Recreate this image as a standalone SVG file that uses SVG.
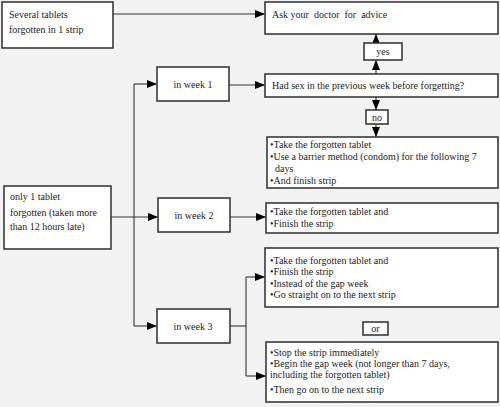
<svg xmlns="http://www.w3.org/2000/svg" width="500" height="407" viewBox="0 0 500 407">
<defs>
<marker id="ah" markerWidth="10" markerHeight="8" refX="10" refY="4" orient="auto" markerUnits="userSpaceOnUse">
<path d="M0,0 L10,4 L0,8 Z" fill="#000"/>
</marker>
<style>
.box{fill:#fff;stroke:#3a3a3a;stroke-width:1.6}
.t{font-family:"Liberation Serif","Times New Roman",serif;font-size:10px;fill:#1a1a1a}
.c{text-anchor:middle}
.ln{fill:none;stroke:#333;stroke-width:1.1}
.ar{fill:none;stroke:#333;stroke-width:1.1;marker-end:url(#ah)}
</style>
</defs>
<rect width="500" height="407" fill="#f2f2f2"/>
<g id="connectors">
<path class="ar" d="M113,14 H265"/>
<path class="ar" d="M376,43 V34"/>
<path class="ar" d="M376,74 V60"/>
<path class="ar" d="M376,97 V110"/>
<path class="ar" d="M376,124 V137"/>
<path class="ar" d="M229,85 H265"/>
<path class="ar" d="M111,217 H158"/>
<path class="ln" d="M134,326 V84"/>
<path class="ar" d="M134,84 H157"/>
<path class="ar" d="M134,326 H157"/>
<path class="ar" d="M230,217 H266"/>
<path class="ln" d="M230,326 H246"/>
<path class="ln" d="M246,277 V376"/>
<path class="ar" d="M246,277 H265"/>
<path class="ar" d="M246,376 H266"/>
</g>
<g id="several">
<rect class="box" x="2" y="2" width="111" height="46"/>
<text class="t" x="9" y="18">Several tablets</text>
<text class="t" x="9" y="33">forgotten in 1 strip</text>
</g>
<g id="ask">
<rect class="box" x="265" y="2" width="233" height="32"/>
<text class="t" x="272" y="18" xml:space="preserve">Ask your  doctor  for  advice</text>
</g>
<g id="yes">
<rect class="box" x="364" y="43" width="38" height="17"/>
<text class="t c" x="383" y="55">yes</text>
</g>
<g id="hadsex">
<rect class="box" x="265" y="74" width="233" height="23"/>
<text class="t" x="272" y="89">Had sex in the previous week before forgetting?</text>
</g>
<g id="no">
<rect class="box" x="366" y="110" width="22" height="14"/>
<text class="t c" x="377" y="121">no</text>
</g>
<g id="take1">
<rect class="box" x="267" y="137" width="231" height="51"/>
<text class="t" x="270" y="148">•Take the forgotten tablet</text>
<text class="t" x="270" y="160">•Use a barrier method (condom) for the following 7</text>
<text class="t" x="275" y="172">days</text>
<text class="t" x="270" y="184">•And finish strip</text>
</g>
<g id="only1">
<rect class="box" x="4" y="186" width="107" height="63"/>
<text class="t" x="10" y="200">only 1 tablet</text>
<text class="t" x="10" y="216">forgotten (taken more</text>
<text class="t" x="10" y="230">than 12 hours late)</text>
</g>
<g id="week1">
<rect class="box" x="157" y="67" width="72" height="34"/>
<text class="t c" x="193" y="88">in week 1</text>
</g>
<g id="week2">
<rect class="box" x="158" y="198" width="72" height="34"/>
<text class="t c" x="194" y="219">in week 2</text>
</g>
<g id="week3">
<rect class="box" x="157" y="309" width="73" height="34"/>
<text class="t c" x="193" y="330">in week 3</text>
</g>
<g id="take2">
<rect class="box" x="266" y="203" width="232" height="30"/>
<text class="t" x="270" y="215">•Take the forgotten tablet and</text>
<text class="t" x="270" y="227">•Finish the strip</text>
</g>
<g id="take3">
<rect class="box" x="265" y="248" width="233" height="59"/>
<text class="t" x="270" y="264">•Take the forgotten tablet and</text>
<text class="t" x="270" y="275">•Finish the strip</text>
<text class="t" x="270" y="287">•Instead of the gap week</text>
<text class="t" x="270" y="298">•Go straight on to the next strip</text>
</g>
<g id="or">
<rect class="box" x="363" y="322" width="25" height="13"/>
<text class="t c" x="375.5" y="332">or</text>
</g>
<g id="stop">
<rect class="box" x="266" y="342" width="232" height="60"/>
<text class="t" x="270" y="356">•Stop the strip immediately</text>
<text class="t" x="270" y="367">•Begin the gap week (not longer than 7 days,</text>
<text class="t" x="270" y="378">including the forgotten tablet)</text>
<text class="t" x="270" y="393">•Then go on to the next strip</text>
</g>
</svg>
